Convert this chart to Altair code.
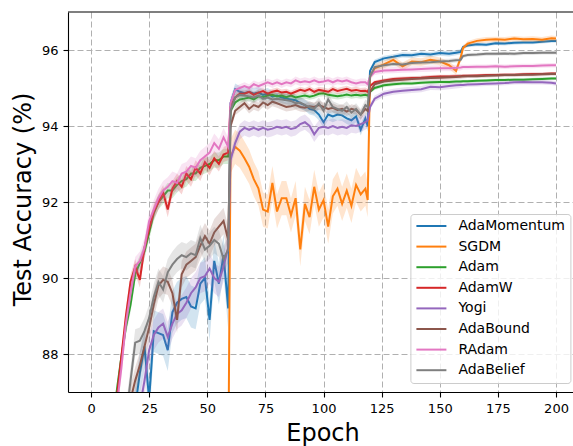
import altair as alt
import pandas as pd

# ---------------- data ----------------
EPOCHS = ([1, 8] + list(range(11, 60, 2)) + list(range(60, 119, 2)) + [119]
          + [120, 122, 126, 130, 134, 138, 142, 146, 150, 154, 157, 159, 160, 162,
             166, 170, 174, 178, 182, 186, 190, 194, 198, 200])

NAMES = ["AdaMomentum", "SGDM", "Adam", "AdamW", "Yogi", "AdaBound", "RAdam", "AdaBelief"]
COLORS = ["#1f77b4", "#ff7f0e", "#2ca02c", "#d62728", "#9467bd", "#8c564b", "#e377c2", "#7f7f7f"]

ADAMOMENTUM = ([50, 78, 83.0, 84.0, 85.0, 85.8, 86.6, 87.5, 88.2, 86.8, 88.6, 88.55, 88.5, 88.1, 89.1,
                89.35, 89.45, 89.5, 89.25, 89.2, 89.85, 90.0, 88.9, 90.45, 89.85, 90.6, 89.2]
               + [94.6, 94.97, 94.9, 94.86, 94.9, 94.85, 94.88, 94.82, 94.85, 94.78, 94.8, 94.75, 94.72,
                  94.7, 94.68, 94.6, 94.55, 94.45, 94.42, 94.3, 94.1, 94.3, 94.25, 94.3, 94.28, 94.2,
                  94.15, 94.25, 93.9, 94.2, 94.0]
               + [95.45, 95.68, 95.78, 95.82, 95.87, 95.86, 95.9, 95.88, 95.92, 95.9, 95.93, 95.95,
                  96.08, 96.12, 96.15, 96.14, 96.18, 96.17, 96.19, 96.2, 96.2, 96.22, 96.24, 96.24])

SGDM = ([40, 70, 72, 74, 75.5, 77, 78, 79, 79.8, 80.5, 81, 81.5, 82, 82.3, 82.6, 82.9, 83.2, 83.4,
         83.6, 83.8, 84, 84.1, 84.2, 84.3, 84.4, 84.5, 84.6]
        + [93.2, 93.45, 93.35, 93.15, 92.93, 92.6, 92.36, 91.8, 91.75, 92.5, 91.75, 92.1, 92.1, 91.65,
           92.1, 90.75, 91.95, 91.6, 92.4, 91.8, 92.05, 91.35, 92.15, 92.35, 91.95, 92.3, 91.9, 92.45,
           92.2, 92.35, 92.05]
        + [95.3, 95.52, 95.62, 95.74, 95.57, 95.7, 95.68, 95.74, 95.7, 95.6, 95.45, 95.8, 96.05, 96.17,
           96.24, 96.27, 96.28, 96.27, 96.3, 96.28, 96.29, 96.27, 96.31, 96.3])

ADAM = ([55, 84, 87.0, 87.9, 88.7, 89.3, 90.1, 90.4, 90.7, 91.2, 91.7, 92.0, 92.15, 92.3, 92.3, 92.45,
         92.55, 92.6, 92.75, 92.75, 92.9, 92.95, 93.0, 93.1, 93.1, 93.2, 93.2]
        + [94.4, 94.62, 94.7, 94.72, 94.75, 94.7, 94.78, 94.76, 94.8, 94.82, 94.78, 94.8, 94.76, 94.8,
           94.75, 94.78, 94.8, 94.77, 94.8, 94.85, 94.86, 94.82, 94.8, 94.78, 94.8, 94.83, 94.8, 94.82,
           94.8, 94.82, 94.8]
        + [94.9, 95.0, 95.07, 95.1, 95.12, 95.12, 95.14, 95.15, 95.16, 95.16, 95.17, 95.17, 95.18,
           95.18, 95.19, 95.2, 95.21, 95.21, 95.22, 95.22, 95.23, 95.24, 95.25, 95.25])

ADAMW = ([55, 84.5, 86.8, 87.9, 89.0, 89.9, 90.3, 89.95, 90.8, 91.3, 91.75, 92.0, 92.25, 91.8, 92.35,
          92.55, 92.4, 92.75, 92.6, 92.9, 92.75, 93.05, 92.9, 93.15, 93.0, 93.25, 93.3]
         + [94.5, 94.75, 94.85, 94.85, 94.9, 94.82, 94.88, 94.92, 94.85, 94.9, 94.93, 94.88, 94.9,
            94.85, 94.9, 94.95, 94.92, 94.97, 94.9, 94.95, 94.93, 94.9, 94.97, 94.92, 94.95, 94.98,
            94.93, 94.95, 94.92, 94.93, 94.9]
         + [95.05, 95.15, 95.2, 95.24, 95.25, 95.26, 95.27, 95.29, 95.3, 95.3, 95.31, 95.31, 95.32,
            95.32, 95.33, 95.34, 95.34, 95.35, 95.35, 95.36, 95.37, 95.37, 95.38, 95.38])

YOGI = ([45, 76, 82.5, 83.5, 84.5, 85.3, 86.0, 86.6, 87.3, 88.1, 88.5, 88.7, 88.8, 88.45, 88.8, 89.05,
         89.15, 89.35, 89.6, 89.75, 90.0, 90.05, 90.25, 90.0, 89.9, 90.3, 90.8]
        + [93.1, 93.55, 93.85, 93.95, 93.9, 93.95, 93.9, 93.95, 93.9, 93.93, 93.98, 93.95, 93.98,
           93.92, 93.95, 94.05, 94.1, 94.0, 93.78, 93.95, 93.98, 93.95, 94.0, 93.95, 93.98, 93.95,
           94.02, 94.0, 94.05, 94.1, 94.15]
        + [94.5, 94.72, 94.85, 94.9, 94.93, 94.95, 94.97, 95.03, 95.02, 95.05, 95.07, 95.08, 95.08,
           95.09, 95.1, 95.11, 95.12, 95.13, 95.15, 95.16, 95.15, 95.15, 95.14, 95.12])

ADABOUND = ([48, 79, 84.0, 85.0, 86.0, 86.8, 87.3, 87.7, 88.2, 88.7, 89.3, 89.8, 89.95, 89.9, 89.6,
             88.9, 90.1, 90.35, 90.45, 90.55, 90.85, 91.1, 90.9, 91.2, 91.35, 91.5, 91.0]
            + [94.0, 94.4, 94.5, 94.6, 94.45, 94.55, 94.5, 94.62, 94.55, 94.64, 94.6, 94.55, 94.5,
               94.52, 94.55, 94.5, 94.48, 94.52, 94.5, 94.55, 94.5, 94.45, 94.48, 94.42, 94.45, 94.38,
               94.45, 94.42, 94.3, 94.45, 94.4]
            + [94.9, 95.1, 95.17, 95.2, 95.22, 95.24, 95.25, 95.26, 95.27, 95.28, 95.29, 95.3, 95.3,
               95.31, 95.31, 95.32, 95.33, 95.34, 95.34, 95.35, 95.35, 95.36, 95.37, 95.37])

RADAM = ([52, 84, 86.6, 87.6, 88.8, 89.6, 90.3, 90.45, 90.8, 91.5, 91.8, 92.1, 92.3, 92.4, 92.55, 92.5,
          92.75, 92.8, 92.95, 92.9, 93.1, 93.2, 93.3, 93.55, 93.4, 93.7, 93.45]
         + [94.6, 94.95, 95.0, 95.05, 95.0, 95.1, 95.05, 95.1, 95.15, 95.1, 95.15, 95.1, 95.15, 95.12,
            95.2, 95.15, 95.18, 95.15, 95.2, 95.15, 95.17, 95.2, 95.15, 95.2, 95.17, 95.2, 95.15,
            95.12, 95.15, 95.15, 95.1]
         + [95.3, 95.42, 95.46, 95.47, 95.48, 95.49, 95.5, 95.51, 95.52, 95.52, 95.53, 95.54, 95.55,
            95.55, 95.56, 95.56, 95.57, 95.56, 95.57, 95.58, 95.58, 95.59, 95.6, 95.6])

ADABELIEF = ([50, 80, 84.5, 85.5, 86.3, 87.3, 88.3, 88.35, 88.6, 88.95, 89.5, 89.9, 89.7, 90.15, 90.35,
              90.5, 90.6, 90.55, 90.65, 90.6, 91.05, 90.75, 90.85, 91.0, 90.9, 90.5, 90.75]
             + [94.4, 94.75, 94.82, 94.8, 94.78, 94.75, 94.8, 94.72, 94.75, 94.7, 94.72, 94.7, 94.68,
                94.66, 94.6, 94.62, 94.55, 94.5, 94.45, 94.6, 94.4, 94.7, 94.5, 94.45, 94.4, 94.5,
                94.35, 94.45, 94.3, 94.55, 94.5]
             + [95.3, 95.55, 95.6, 95.63, 95.62, 95.66, 95.67, 95.68, 95.7, 95.71, 95.73, 95.74, 95.84,
                95.87, 95.88, 95.9, 95.9, 95.91, 95.9, 95.92, 95.92, 95.93, 95.93, 95.93])

SERIES = [ADAMOMENTUM, SGDM, ADAM, ADAMW, YOGI, ADABOUND, RADAM, ADABELIEF]

# half-width of the shaded band per phase: [<60, 60-119, 120-159, 160-200]
BANDS = {
    "AdaMomentum": [0.55, 0.15, 0.07, 0.05],
    "SGDM": [0.3, 0.45, 0.1, 0.07],
    "Adam": [0.2, 0.08, 0.05, 0.04],
    "AdamW": [0.2, 0.08, 0.05, 0.04],
    "Yogi": [0.4, 0.2, 0.08, 0.06],
    "AdaBound": [0.35, 0.12, 0.06, 0.05],
    "RAdam": [0.25, 0.1, 0.08, 0.06],
    "AdaBelief": [0.35, 0.15, 0.06, 0.05],
}

X_TICKS = [0, 25, 50, 75, 100, 125, 150, 175, 200]
Y_TICKS = [88, 90, 92, 94, 96]

rows = []
for name, vals in zip(NAMES, SERIES):
    assert len(vals) == len(EPOCHS), (name, len(vals), len(EPOCHS))
    for e, v in zip(EPOCHS, vals):
        ph = 0 if e < 60 else (1 if e < 120 else (2 if e < 160 else 3))
        b = BANDS[name][ph]
        rows.append({"epoch": e, "acc": v, "lo": v - b, "hi": v + b, "opt": name})
df = pd.DataFrame(rows)

# ---------------- chart ----------------
W, H = 505, 380
FONT = "DejaVu Sans"

xscale = alt.Scale(domain=[-9.9, 207.3], nice=False, zero=False)
yscale = alt.Scale(domain=[87, 97], nice=False, zero=False)

xaxis = alt.Axis(values=X_TICKS, title="Epoch", format="d", grid=True,
                 titleY=48, titleBaseline="alphabetic", titleX=W / 2 + 2)
yaxis = alt.Axis(values=Y_TICKS, title="Test Accuracy (%)", format="d", grid=True,
                 titleAngle=270, titleX=-38, titleY=187, titleAlign="center",
                 titleBaseline="alphabetic")

# custom horizontal stroke symbol: 30 px long at size 100 (scale = sqrt(size)/2 = 5)
legend = alt.Legend(title=None, orient="none", legendX=342.4, legendY=202,
                    symbolType="M-1.2,0L4.8,0", symbolSize=100, symbolStrokeWidth=2,
                    labelFontSize=14, labelFont=FONT, labelColor="black",
                    labelOffset=29, rowPadding=6.6, padding=5,
                    strokeColor="#cccccc", fillColor="rgba(255,255,255,0.8)",
                    cornerRadius=3)

layers = []
for i, (name, col) in enumerate(zip(NAMES, COLORS)):
    base = alt.Chart(df).transform_filter(alt.datum.opt == name)
    area = base.mark_area(clip=True, opacity=0.2, color=col).encode(
        x=alt.X("epoch:Q", scale=xscale, axis=xaxis),
        y=alt.Y("lo:Q", scale=yscale, axis=yaxis),
        y2="hi:Q",
    )
    line = base.mark_line(clip=True, strokeWidth=2).encode(
        x=alt.X("epoch:Q", scale=xscale, axis=xaxis),
        y=alt.Y("acc:Q", scale=yscale, axis=yaxis),
        stroke=alt.Stroke("opt:N", scale=alt.Scale(domain=NAMES, range=COLORS),
                          legend=legend),
    )
    layers += [area, line]

top_border = alt.Chart(pd.DataFrame({"a": [0]})).mark_rule(color="black", strokeWidth=1.1).encode(
    x=alt.value(0), x2=alt.value(W), y=alt.value(0)
)
layers.append(top_border)

chart = alt.layer(*layers).properties(
    width=W, height=H,
    autosize=alt.AutoSizeParams(type="none"),
    padding={"left": 68, "top": 12, "right": 0, "bottom": 54},
).configure_view(strokeWidth=0).configure_axis(
    labelFont=FONT, labelFontSize=13, labelColor="black", labelPadding=5,
    titleFont=FONT, titleFontSize=24, titleFontWeight="normal", titleColor="black",
    domainColor="black", domainWidth=1.1, tickColor="black", tickWidth=1.1, tickSize=5,
    gridColor="#b0b0b0", gridDash=[6, 3], gridWidth=1, gridOpacity=1,
)

chart.save("out.html", embed_options={"renderer": "svg", "actions": False})
